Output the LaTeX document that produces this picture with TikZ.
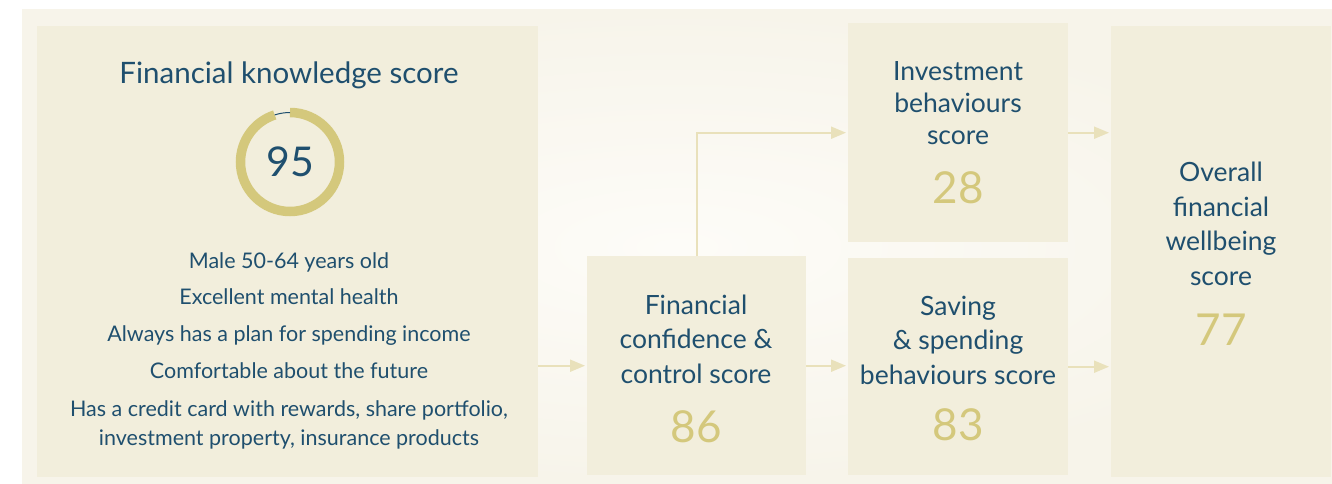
\documentclass[tikz,border=0pt]{standalone}
\usepackage{fontspec}
\setmainfont{Lato}
\usetikzlibrary{positioning,arrows.meta,calc}

\definecolor{paper}{HTML}{F7F4EA}
\definecolor{glow}{HTML}{FDFCF8}
\definecolor{panel}{HTML}{F2EEDC}
\definecolor{ink}{HTML}{1F4F6E}
\definecolor{gold}{HTML}{D4C87C}
\definecolor{flow}{HTML}{E9E1BB}

\tikzset{
  panel/.style={fill=panel, draw=none, inner sep=0pt, anchor=north west},
  head/.style={text=ink, align=center, inner sep=0pt, font=\fontsize{26.5}{34.5}\selectfont},
  fact/.style={text=ink, inner sep=0pt, anchor=base, font=\fontsize{21.5}{25}\selectfont},
  score/.style={text=gold, inner sep=0pt, font=\fontsize{44}{48}\selectfont},
  flow/.style={draw=flow, line width=2pt, -{Triangle[length=15pt,width=12pt]}, shorten >=2pt}
}

\begin{document}
\begin{tikzpicture}[x=1pt,y=-1pt]
  % Page and background
  \useasboundingbox (0,0) rectangle (1332,484);
  \fill[white] (0,0) rectangle (1332,484);
  \shade[inner color=glow, outer color=paper] (22,10) rectangle (1332,484);

  % Panels
  \node[panel, minimum width=501, minimum height=451] (know) at (37,26) {};
  \node[panel, minimum width=219, minimum height=219] (conf) at (587,256) {};
  \node[panel, minimum width=220, minimum height=219] (invest) at (848,23) {};
  \node[panel, minimum width=220, minimum height=217] (save) at (848,258) {};
  \node[panel, minimum width=220, minimum height=451] (overall) at (1111,26) {};

  % Knowledge panel
  \node[text=ink, inner sep=0pt, anchor=base, font=\fontsize{29.5}{32}\selectfont] (knowtitle) at (289,84) {Financial knowledge score};
  \coordinate (ring) at (290,162);
  \draw[gold, line width=9.5] ($(ring)+(-90:49.5)$) arc[start angle=-90, end angle=252, radius=49.5];
  \draw[ink, line width=1] ($(ring)+(-90:49.5)$) arc[start angle=-90, end angle=-108, radius=49.5];
  \node[text=ink, inner sep=0pt, font=\fontsize{41}{45}\selectfont] (knowscore) at (ring) {95};

  \node[fact] (fact1) at (289,268) {Male 50-64 years old};
  \node[fact] (fact2) at (289,304) {Excellent mental health};
  \node[fact] (fact3) at (289,341) {Always has a plan for spending income};
  \node[fact] (fact4) at (289,378) {Comfortable about the future};
  \node[fact] (fact5) at (289,416) {Has a credit card with rewards, share portfolio,};
  \node[fact] (fact6) at (289,445) {investment property, insurance products};

  % Score panels
  \node[head] (confhead) at (696,339) {Financial\\confidence \&\\control score};
  \node[score] (confscore) at (696,427) {86};
  \node[head, font=\fontsize{26.5}{32}\selectfont] (investhead) at (958,103) {Investment\\behaviours\\score};
  \node[score] (investscore) at (958,188) {28};
  \node[head] (savehead) at (958,340) {Saving\\\& spending\\behaviours score};
  \node[score] (savescore) at (958,425) {83};
  \node[head] (overallhead) at (1221,224) {Overall\\financial\\wellbeing\\score};
  \node[score] (overallscore) at (1221,330) {77};

  % Connectors
  \draw[flow] (know.east |- conf.west) -- (conf.west);
  \draw[flow] (conf.east) -- (conf.east -| save.west);
  \draw[flow] (conf.north) -- (conf.north |- invest.west) -- (invest.west);
  \draw[flow] (invest.east) -- (invest.east -| overall.west);
  \draw[flow] (save.east) -- (save.east -| overall.west);
\end{tikzpicture}
\end{document}
